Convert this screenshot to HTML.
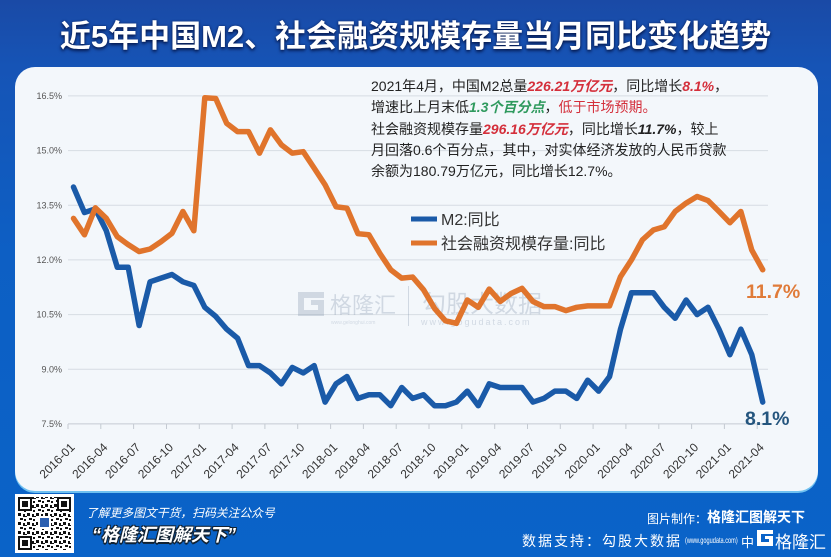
<!DOCTYPE html>
<html lang="zh-CN">
<head>
<meta charset="UTF-8">
<style>
  html, body { margin:0; padding:0; }
  body { width:831px; height:557px; overflow:hidden; position:relative;
    font-family:"Liberation Sans","Noto Sans CJK SC",sans-serif;
    background: linear-gradient(180deg, #1a4aa6 0%, #1654b6 12%, #0d5fc4 45%, #0a63c8 100%); }
  .title { position:absolute; left:0; top:17px; width:831px; text-align:center;
    font-size:31px; font-weight:bold; color:#fff; line-height:40px;
    text-shadow:0 2px 3px rgba(0,10,50,0.75), 0 0 2px rgba(0,10,50,0.5); letter-spacing:0px; }
  .panel { position:absolute; left:15px; top:67px; width:803px; height:424px;
    border-radius:20px; background:#f3f7fb; box-shadow:0 2px 0 #6fc0f0; }
  .note { position:absolute; left:371px; top:76px; font-size:14px; line-height:21.3px; color:#222;
    white-space:nowrap; }
  .red { color:#d42f3b; font-weight:bold; font-style:italic; }
  .red2 { color:#d42f3b; }
  .grn { color:#2f9a5e; font-weight:bold; font-style:italic; }
  .blk { font-weight:bold; font-style:italic; }
  svg { position:absolute; left:0; top:0; }
  .bl1 { position:absolute; left:86px; top:504px; font-size:11.8px; color:#fff; font-style:italic; white-space:nowrap; }
  .bl2 { position:absolute; left:92px; top:521px; font-size:18px; font-weight:bold; font-style:italic; color:#fff; white-space:nowrap;
    text-shadow: -1px -1px 0 #123, 1px -1px 0 #123, -1px 1px 0 #123, 1px 1px 0 #123, 0 2px 0 #123; }
  .br1a { position:absolute; left:647px; top:510px; font-size:12px; color:#fff; white-space:nowrap; }
  .br1b { position:absolute; left:707px; top:507px; font-size:14px; font-weight:bold; color:#fff; white-space:nowrap; }
  .br2a { position:absolute; left:522px; top:531px; font-size:14px; letter-spacing:2px; color:#fff; white-space:nowrap; }
  .br2b { position:absolute; left:685px; top:535px; font-size:8.5px; color:#fff; white-space:nowrap;
    transform:scaleX(0.66); transform-origin:0 50%; }
  .br2c { position:absolute; left:741px; top:532px; font-size:13px; color:#fff; white-space:nowrap; }
  .logo { position:absolute; left:775px; top:528px; font-size:17px; color:#fff; white-space:nowrap; }
</style>
</head>
<body>
<div class="title">近5年中国M2、社会融资规模存量当月同比变化趋势</div>
<div class="panel"></div>

<svg width="831" height="557" viewBox="0 0 831 557" xmlns="http://www.w3.org/2000/svg">
  <!-- gridlines -->
  <g stroke="#d6dce3" stroke-width="1">
    <line x1="68" y1="95.9" x2="768" y2="95.9"/>
    <line x1="68" y1="150.6" x2="768" y2="150.6"/>
    <line x1="68" y1="205.3" x2="768" y2="205.3"/>
    <line x1="68" y1="259.9" x2="768" y2="259.9"/>
    <line x1="68" y1="314.6" x2="768" y2="314.6"/>
    <line x1="68" y1="369.3" x2="768" y2="369.3"/>
  </g>
  <line x1="68" y1="423.9" x2="768" y2="423.9" stroke="#c4cad2" stroke-width="1"/>
  <g stroke="#c4cad2" stroke-width="1">
    <line x1="68" y1="424" x2="68" y2="429"/><line x1="100.8" y1="424" x2="100.8" y2="429"/>
    <line x1="133.6" y1="424" x2="133.6" y2="429"/><line x1="166.5" y1="424" x2="166.5" y2="429"/>
    <line x1="199.3" y1="424" x2="199.3" y2="429"/><line x1="232.1" y1="424" x2="232.1" y2="429"/>
    <line x1="264.9" y1="424" x2="264.9" y2="429"/><line x1="297.7" y1="424" x2="297.7" y2="429"/>
    <line x1="330.6" y1="424" x2="330.6" y2="429"/><line x1="363.4" y1="424" x2="363.4" y2="429"/>
    <line x1="396.2" y1="424" x2="396.2" y2="429"/><line x1="429" y1="424" x2="429" y2="429"/>
    <line x1="461.8" y1="424" x2="461.8" y2="429"/><line x1="494.7" y1="424" x2="494.7" y2="429"/>
    <line x1="527.5" y1="424" x2="527.5" y2="429"/><line x1="560.3" y1="424" x2="560.3" y2="429"/>
    <line x1="593.1" y1="424" x2="593.1" y2="429"/><line x1="625.9" y1="424" x2="625.9" y2="429"/>
    <line x1="658.8" y1="424" x2="658.8" y2="429"/><line x1="691.6" y1="424" x2="691.6" y2="429"/>
    <line x1="724.4" y1="424" x2="724.4" y2="429"/><line x1="757.2" y1="424" x2="757.2" y2="429"/>
  </g>

  <!-- y labels -->
  <g font-family="Liberation Sans, sans-serif" font-size="9" fill="#555" text-anchor="end">
    <text x="62" y="99">16.5%</text>
    <text x="62" y="153.7">15.0%</text>
    <text x="62" y="208.4">13.5%</text>
    <text x="62" y="263">12.0%</text>
    <text x="62" y="317.7">10.5%</text>
    <text x="62" y="372.4">9.0%</text>
    <text x="62" y="427">7.5%</text>
  </g>

  <!-- x labels -->
  <g font-family="Liberation Sans, sans-serif" font-size="12" fill="#333" text-anchor="end">
    <text transform="translate(75.5,448) rotate(-45)">2016-01</text>
    <text transform="translate(108.3,448) rotate(-45)">2016-04</text>
    <text transform="translate(141.1,448) rotate(-45)">2016-07</text>
    <text transform="translate(174,448) rotate(-45)">2016-10</text>
    <text transform="translate(206.8,448) rotate(-45)">2017-01</text>
    <text transform="translate(239.6,448) rotate(-45)">2017-04</text>
    <text transform="translate(272.4,448) rotate(-45)">2017-07</text>
    <text transform="translate(305.2,448) rotate(-45)">2017-10</text>
    <text transform="translate(338.1,448) rotate(-45)">2018-01</text>
    <text transform="translate(370.9,448) rotate(-45)">2018-04</text>
    <text transform="translate(403.7,448) rotate(-45)">2018-07</text>
    <text transform="translate(436.5,448) rotate(-45)">2018-10</text>
    <text transform="translate(469.3,448) rotate(-45)">2019-01</text>
    <text transform="translate(502.2,448) rotate(-45)">2019-04</text>
    <text transform="translate(535,448) rotate(-45)">2019-07</text>
    <text transform="translate(567.8,448) rotate(-45)">2019-10</text>
    <text transform="translate(600.6,448) rotate(-45)">2020-01</text>
    <text transform="translate(633.4,448) rotate(-45)">2020-04</text>
    <text transform="translate(666.3,448) rotate(-45)">2020-07</text>
    <text transform="translate(699.1,448) rotate(-45)">2020-10</text>
    <text transform="translate(731.9,448) rotate(-45)">2021-01</text>
    <text transform="translate(764.7,448) rotate(-45)">2021-04</text>
  </g>

  <!-- watermark -->
  <g opacity="0.28" fill="#7a8ca5">
    <path d="M298 292 h26 v6 h-20 v12 h14 v-5 h-7 v-5 h13 v16 h-26 z"/>
    <text x="330" y="313" font-size="22" font-family="Liberation Sans, Noto Sans CJK SC, sans-serif">格隆汇</text>
    <text x="331" y="324" font-size="5" font-family="Liberation Sans, sans-serif">www.gelonghui.com</text>
    <rect x="408" y="286" width="1" height="40"/>
    <text x="422" y="312" font-size="24" font-family="Liberation Sans, Noto Sans CJK SC, sans-serif">勾股大数据</text>
    <text x="421" y="325" font-size="9" letter-spacing="2" font-family="Liberation Sans, sans-serif">www.gogudata.com</text>
  </g>

  <!-- series -->
  <g transform="translate(73.5,697.26) scale(10.94,-36.444)" fill="none" stroke-linejoin="round" stroke-linecap="round">
    <polyline vector-effect="non-scaling-stroke" stroke="#1a5aa8" stroke-width="5.5"
      points="0,14 1,13.3 2,13.4 3,12.8 4,11.8 5,11.8 6,10.2 7,11.4 8,11.5 9,11.6 10,11.4 11,11.3 12,10.7 13,10.45 14,10.1 15,9.85 16,9.1 17,9.1 18,8.9 19,8.6 20,9.05 21,8.9 22,9.1 23,8.1 24,8.6 25,8.8 26,8.2 27,8.3 28,8.3 29,8 30,8.5 31,8.2 32,8.3 33,8 34,8 35,8.1 36,8.4 37,8 38,8.6 39,8.5 40,8.5 41,8.5 42,8.1 43,8.2 44,8.4 45,8.4 46,8.2 47,8.7 48,8.4 49,8.8 50,10.1 51,11.1 52,11.1 53,11.1 54,10.7 55,10.4 56,10.9 57,10.5 58,10.7 59,10.1 60,9.4 61,10.1 62,9.4 63,8.1"/>
    <polyline vector-effect="non-scaling-stroke" stroke="#e0742c" stroke-width="5.5"
      points="0,13.14 1,12.69 2,13.43 3,13.14 4,12.64 5,12.42 6,12.23 7,12.3 8,12.5 9,12.73 10,13.33 11,12.8 12,16.45 13,16.43 14,15.75 15,15.52 16,15.52 17,14.93 18,15.57 19,15.16 20,14.93 21,14.97 22,14.52 23,14.06 24,13.46 25,13.42 26,12.72 27,12.69 28,12.18 29,11.73 30,11.5 31,11.53 32,11.18 33,10.67 34,10.33 35,10.26 36,10.9 37,10.7 38,11.2 39,10.86 40,11.08 41,11.22 42,10.86 43,10.72 44,10.72 45,10.61 46,10.7 47,10.74 48,10.74 49,10.74 50,11.54 51,12 52,12.55 53,12.82 54,12.91 55,13.33 56,13.56 57,13.74 58,13.63 59,13.33 60,13.02 61,13.33 62,12.27 63,11.73"/>
  </g>

  <!-- legend -->
  <line x1="411" y1="219" x2="437" y2="219" stroke="#1a5aa8" stroke-width="5"/>
  <line x1="411" y1="243" x2="437" y2="243" stroke="#e0742c" stroke-width="5"/>
  <g font-family="Liberation Sans, Noto Sans CJK SC, sans-serif" font-size="16" fill="#333">
    <text x="441" y="225">M2:同比</text>
    <text x="441" y="249">社会融资规模存量:同比</text>
  </g>

  <!-- end labels -->
  <text x="746" y="298" font-family="Liberation Sans, sans-serif" font-size="19.5" font-weight="bold" fill="#e07b39">11.7%</text>
  <text x="745" y="425" font-family="Liberation Sans, sans-serif" font-size="19.5" font-weight="bold" fill="#24557e">8.1%</text>

  <!-- QR code -->
  <defs>
    <pattern id="qr" width="9" height="9" patternUnits="userSpaceOnUse">
      <rect x="0" y="0" width="3" height="3" fill="#111"/>
      <rect x="5" y="1" width="2" height="3" fill="#111"/>
      <rect x="2" y="5" width="3" height="2" fill="#111"/>
      <rect x="6" y="6" width="2" height="2" fill="#111"/>
      <rect x="7" y="3" width="2" height="1" fill="#111"/>
    </pattern>
  </defs>
  <rect x="15" y="494" width="59" height="59" fill="#fff"/>
  <rect x="18" y="497" width="53" height="53" fill="url(#qr)"/>
  <g>
    <rect x="18" y="497" width="14" height="14" fill="#111"/><rect x="20" y="499" width="10" height="10" fill="#fff"/><rect x="22" y="501" width="6" height="6" fill="#111"/>
    <rect x="57" y="497" width="14" height="14" fill="#111"/><rect x="59" y="499" width="10" height="10" fill="#fff"/><rect x="61" y="501" width="6" height="6" fill="#111"/>
    <rect x="18" y="536" width="14" height="14" fill="#111"/><rect x="20" y="538" width="10" height="10" fill="#fff"/><rect x="22" y="540" width="6" height="6" fill="#111"/>
    <rect x="38" y="516" width="13" height="13" fill="#fff"/><rect x="40" y="518" width="9" height="9" fill="#2b5fb0"/>
  </g>
  <!-- bottom-right logo box -->
  <path d="M757 530 h16 v4 h-12 v8 h8 v-3 h-4 v-3 h8 v10 h-16 z" fill="#fff"/>
</svg>

<div class="note">
2021年4月，中国M2总量<span class="red">226.21万亿元</span>，同比增长<span class="red">8.1%</span>，<br>
增速比上月末低<span class="grn">1.3个百分点</span>，<span class="red2">低于市场预期。</span><br>
社会融资规模存量<span class="red">296.16万亿元</span>，同比增长<span class="blk">11.7%</span>，较上<br>
月回落0.6个百分点，其中，对实体经济发放的人民币贷款<br>
余额为180.79万亿元，同比增长12.7%。
</div>

<div class="bl1">了解更多图文干货，扫码关注公众号</div>
<div class="bl2">“格隆汇图解天下”</div>
<div class="br1a">图片制作：</div>
<div class="br1b">格隆汇图解天下</div>
<div class="br2a">数据支持：勾股大数据</div>
<div class="br2b">(www.gogudata.com)</div>
<div class="br2c">中</div>
<div class="logo">格隆汇</div>
</body>
</html>
